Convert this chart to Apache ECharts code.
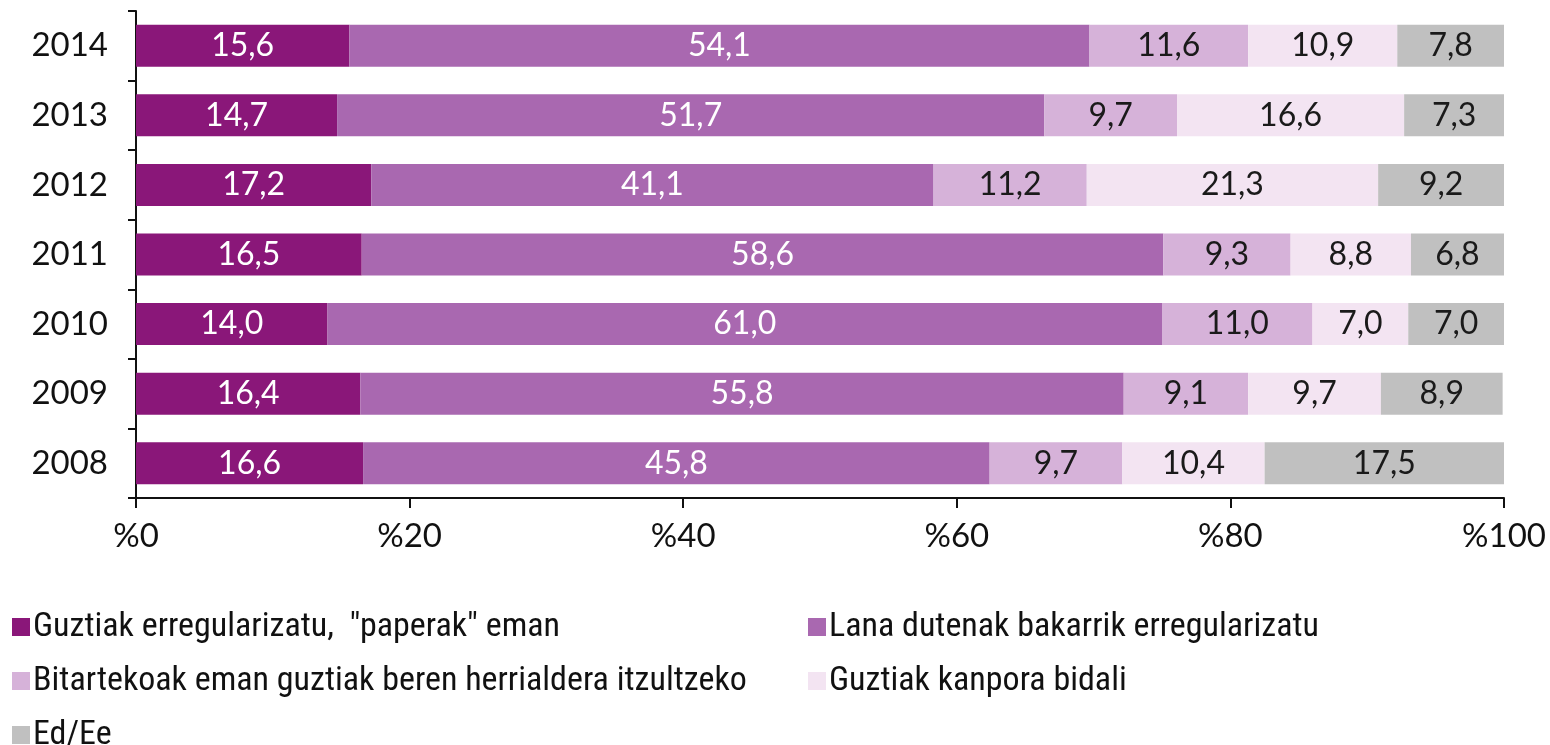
<!DOCTYPE html>
<html>
<head>
    <meta charset="utf-8" />
    <title>Erregularizazioa</title>
    <style>
        html, body { margin: 0; padding: 0; background: #fff; }
        #chart { width: 1550px; height: 745px; }
    </style>
</head>
<body>
    <div id="chart"></div>
    <script src="https://cdn.jsdelivr.net/npm/echarts@6/dist/echarts.min.js"></script>
    <script>
        // urteak (behetik gora)
        var years = ['2008', '2009', '2010', '2011', '2012', '2013', '2014'];
        var xTicks = [0, 20, 40, 60, 80, 100];

        // serieak
        var names = [
            'Guztiak erregularizatu,  "paperak" eman',
            'Lana dutenak bakarrik erregularizatu',
            'Bitartekoak eman guztiak beren herrialdera itzultzeko',
            'Guztiak kanpora bidali',
            'Ed/Ee'
        ];
        var paperak   = [16.6, 16.4, 14.0, 16.5, 17.2, 14.7, 15.6];
        var lana      = [45.8, 55.8, 61.0, 58.6, 41.1, 51.7, 54.1];
        var bitarteko = [9.7, 9.1, 11.0, 9.3, 11.2, 9.7, 11.6];
        var kanpora   = [10.4, 9.7, 7.0, 8.8, 21.3, 16.6, 10.9];
        var eded      = [17.5, 8.9, 7.0, 6.8, 9.2, 7.3, 7.8];

        var values = [paperak, lana, bitarteko, kanpora, eded];
        var colors = ['#8a1779', '#a968b0', '#d6b2d9', '#f3e4f2', '#c0c0c0'];
        var labelColors = ['#ffffff', '#ffffff', '#1a1a1a', '#1a1a1a', '#1a1a1a'];

        var font = 'Lato, "Open Sans", sans-serif';
        var legendFont = '"Liberation Sans Narrow", "Roboto Condensed", Roboto, sans-serif';

        var series = names.map(function (n, i) {
            return {
                name: n,
                type: 'bar',
                stack: 'total',
                barWidth: 42,
                data: values[i],
                itemStyle: { color: colors[i] },
                label: {
                    show: true,
                    position: 'inside',
                    color: labelColors[i],
                    fontFamily: font,
                    fontSize: 32,
                    formatter: function (p) { return p.value.toFixed(1).replace('.', ','); }
                },
                emphasis: { disabled: true }
            };
        });

        // legenda: bi zutabe
        var legendPos = [
            { left: 8, top: 606 },
            { left: 804, top: 606 },
            { left: 8, top: 660 },
            { left: 804, top: 660 },
            { left: 8, top: 714 }
        ];
        var legends = names.map(function (n, i) {
            return {
                data: [n],
                left: legendPos[i].left,
                top: legendPos[i].top,
                itemWidth: 18,
                itemHeight: 18,
                itemGap: 0,
                padding: 4,
                icon: 'rect',
                selectedMode: false,
                textStyle: { fontFamily: legendFont, fontSize: 34, color: '#111', padding: [0, 0, 0, -2] }
            };
        });

        var chart = echarts.init(document.getElementById('chart'));
        chart.setOption({
            animation: false,
            grid: { left: 136, right: 46, top: 11, bottom: 247, containLabel: false },
            legend: legends,
            xAxis: {
                type: 'value',
                min: xTicks[0],
                max: xTicks[xTicks.length - 1],
                interval: 20,
                splitLine: { show: false },
                axisLine: { show: true, lineStyle: { color: '#111', width: 2 } },
                axisTick: { show: true, length: 10, lineStyle: { color: '#111', width: 2 } },
                axisLabel: {
                    margin: 22,
                    fontFamily: font,
                    fontSize: 33,
                    color: '#111',
                    formatter: function (v) { return '%' + v; }
                }
            },
            yAxis: {
                type: 'category',
                data: years,
                axisLine: { show: true, lineStyle: { color: '#111', width: 2 } },
                axisTick: { show: true, length: 8, alignWithLabel: false, lineStyle: { color: '#111', width: 2 } },
                axisLabel: { margin: 28, fontFamily: font, fontSize: 33, color: '#111' }
            },
            series: series
        });
    </script>
</body>
</html>
